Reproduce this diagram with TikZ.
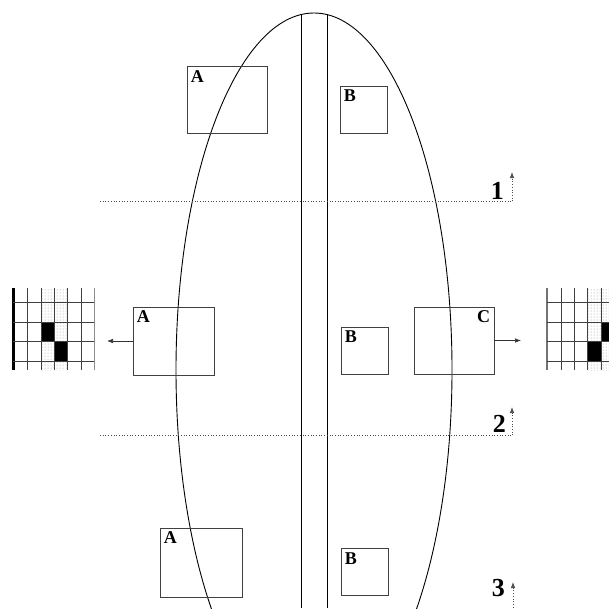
\documentclass[tikz,border=0pt]{standalone}
\usepackage{fontspec}
\setmainfont{Liberation Serif}
\usetikzlibrary{arrows.meta,patterns}

\begin{document}
\begin{tikzpicture}[x=1pt,y=-1pt,>={Latex[length=6pt,width=4.5pt]},
    box/.style={draw=black!75,line width=0.7pt,minimum width=80pt,minimum height=67pt,inner sep=0pt},
    sbox/.style={box,minimum width=47pt,minimum height=47pt},
    tag/.style={font=\bfseries\fontsize{18}{18}\selectfont,inner sep=4pt},
    num/.style={font=\bfseries\fontsize{26}{26}\selectfont,inner sep=0pt},
    cut/.style={black!70,dotted,line width=0.7pt},
    gridl/.style={black!75,line width=0.9pt}]
    \clip (0,0) rectangle (609,608);

    % body and the two central lines
    \draw[line width=0.9pt] (314,370) ellipse [x radius=138, y radius=357];
    \begin{scope}
      \clip (314,370) ellipse [x radius=138, y radius=357];
      \draw[line width=0.9pt] (301,0) -- (301,608);
      \draw[line width=0.9pt] (327,0) -- (327,608);
    \end{scope}

    % boxes
    \node[box] (atop) at (227,100) {};
    \node[sbox] (btop) at (363.5,109.5) {};
    \node[box,minimum width=81pt,minimum height=68pt] (amid) at (173.5,341) {};
    \node[sbox] (bmid) at (364.5,350.5) {};
    \node[box] (cmid) at (454,340.5) {};
    \node[box,minimum width=82pt,minimum height=69pt] (abot) at (201,562.5) {};
    \node[sbox] (bbot) at (364.5,572) {};

    \node[tag,anchor=north west] (latop) at (atop.north west) {A};
    \node[tag,anchor=north west] (lbtop) at (btop.north west) {B};
    \node[tag,anchor=north west] (lamid) at (amid.north west) {A};
    \node[tag,anchor=north west] (lbmid) at (bmid.north west) {B};
    \node[tag,anchor=north east] (lcmid) at (cmid.north east) {C};
    \node[tag,anchor=north west] (labot) at (abot.north west) {A};
    \node[tag,anchor=north west] (lbbot) at (bbot.north west) {B};

    % outputs
    \coordinate (aout) at (107,341);
    \coordinate (cout) at (521,340.5);
    \draw[->,black!80,line width=0.6pt] (amid.west) -- (aout);
    \draw[->,black!80,line width=0.6pt] (cmid.east) -- (cout);

    % cut levels
    \coordinate (c1l) at (100,201);
    \coordinate (c1r) at (512,201);
    \coordinate (c1t) at (512,172);
    \coordinate (c2l) at (100,435);
    \coordinate (c2r) at (512,435);
    \coordinate (c2t) at (512,407);
    \coordinate (c3b) at (513,610);
    \coordinate (c3t) at (513,582);
    \draw[cut] (c1l) -- (c1r);
    \draw[cut,->] (c1r) -- (c1t);
    \draw[cut] (c2l) -- (c2r);
    \draw[cut,->] (c2r) -- (c2t);
    \draw[cut,->] (c3b) -- (c3t);
    \node[num,anchor=base east] (n1) at (504,199) {1};
    \node[num,anchor=base east] (n2) at (506,432) {2};
    \node[num,anchor=base east] (n3) at (505,596) {3};

    % left grid
    \fill[pattern=dots,pattern color=black!45] (41,288) rectangle (67,370);
    \fill (41,322) rectangle (54,341);
    \fill (54,341) rectangle (67,361);
    \foreach \x in {27,41,54,67,81}
      \draw[gridl] (\x,288) -- (\x,370);
    \draw[black!45,line width=1pt] (94,288) -- (94,370);
    \draw[line width=3pt] (13,288) -- (13,370);
    \foreach \y in {302,322,341,361}
      \draw[gridl] (13,\y) -- (94,\y);

    % right grid
    \fill[pattern=dots,pattern color=black!45] (587,288) rectangle (614,370);
    \fill (601,322) rectangle (614,341);
    \fill (587,341) rectangle (601,361);
    \foreach \x in {561,574,587,601}
      \draw[gridl] (\x,288) -- (\x,370);
    \draw[black!55,line width=1.5pt] (547,288) -- (547,370);
    \foreach \y in {302,322,341,361}
      \draw[gridl] (547,\y) -- (614,\y);
  \end{tikzpicture}
\end{document}
